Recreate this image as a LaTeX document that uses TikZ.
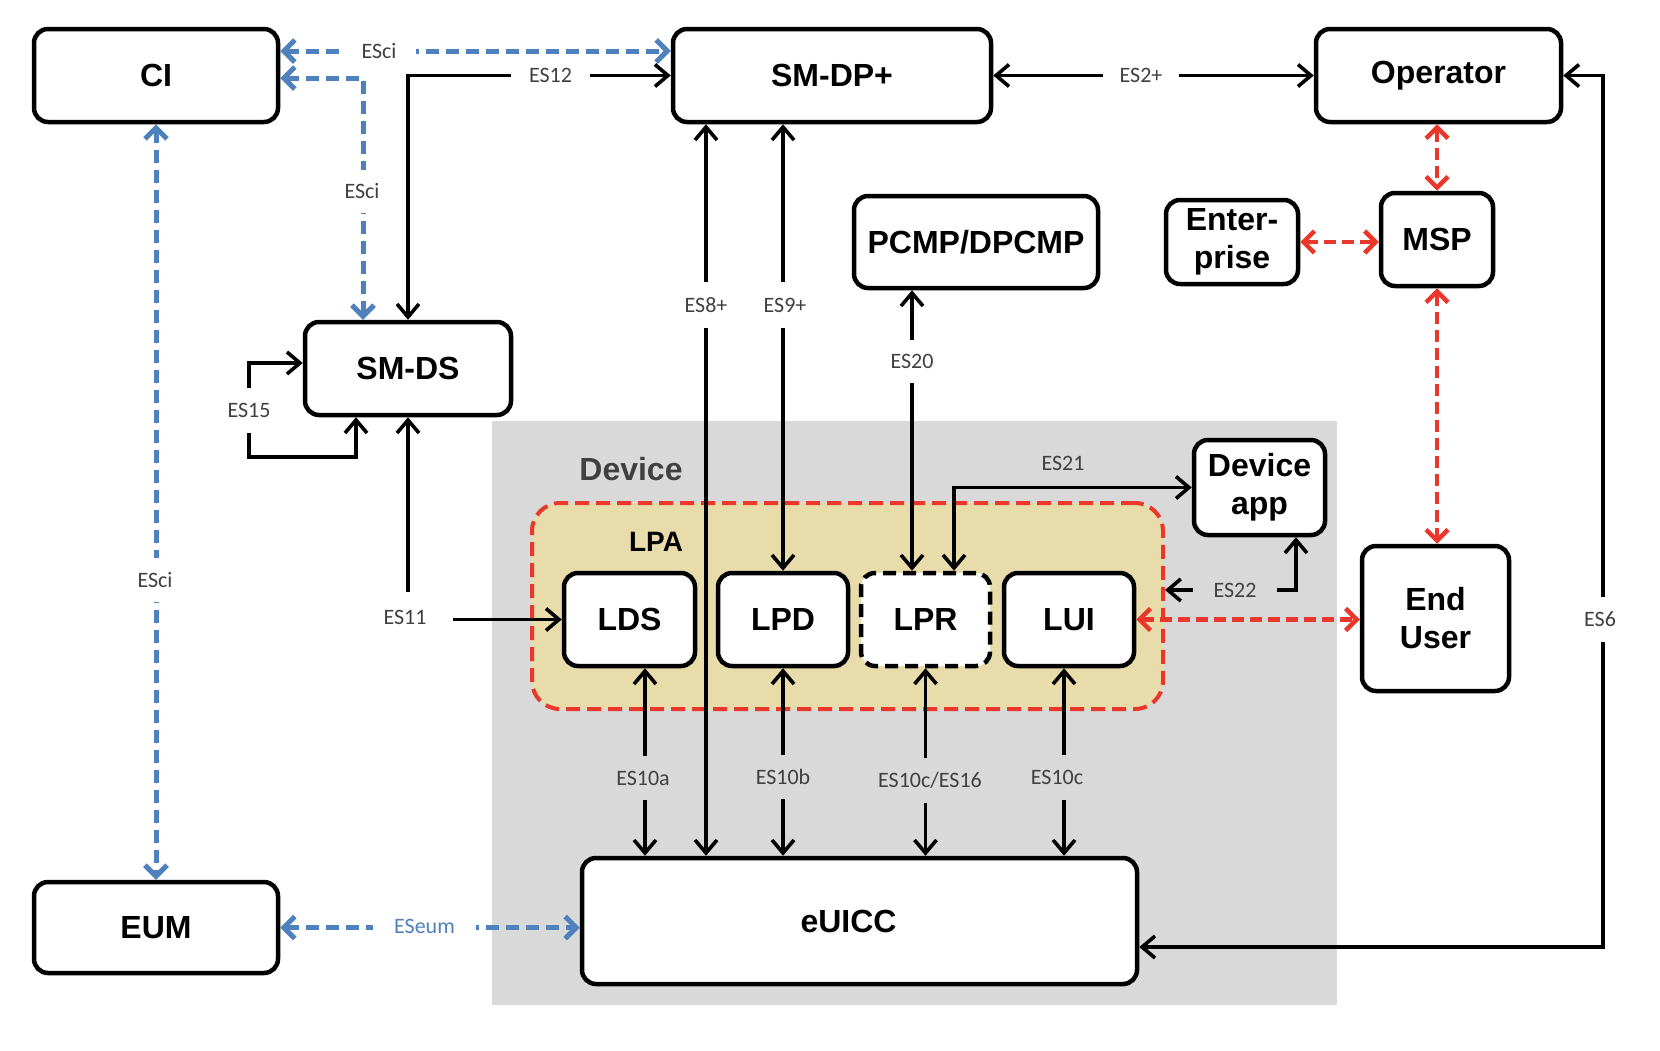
\documentclass[tikz,border=0pt]{standalone}
\usepackage{fontspec}
\newfontfamily\arialfont{Liberation Sans}
\newfontfamily\carlfont{Carlito}
\usetikzlibrary{arrows.meta}
\definecolor{esblue}{RGB}{79,129,189}
\definecolor{esred}{RGB}{233,56,43}
\definecolor{lpabeige}{RGB}{232,220,170}
\definecolor{devgray}{RGB}{217,217,217}
\definecolor{devtext}{RGB}{64,64,64}
\tikzset{
  box/.style={draw=black, line width=4.5pt, rounded corners=14pt, fill=white, align=center, inner sep=0pt, font=\arialfont\bfseries\fontsize{32}{38}\selectfont},
  lbl/.style={font=\carlfont\fontsize{22}{26}\selectfont, inner sep=0pt, text=devtext},
  lblw/.style={lbl, fill=white},
  lblg/.style={lbl, fill=devgray},
  conn/.style={line width=3.6pt, draw=black, >={Straight Barb[length=13pt,width=22pt]}},
  bluel/.style={line width=5pt, draw=esblue, dash pattern=on 13pt off 7pt, >={Straight Barb[length=11pt,width=22pt]}},
  redl/.style={line width=4.5pt, draw=esred, dash pattern=on 12pt off 6pt, >={Straight Barb[length=11pt,width=22pt]}},
}
\begin{document}
\begin{tikzpicture}[x=1pt,y=-1pt]
\useasboundingbox (0,0) rectangle (1660,1050);
% containers
\node[fill=devgray, minimum width=845pt, minimum height=584pt, inner sep=0pt] (device) at (914.5,713) {};
\node[draw=esred, fill=lpabeige, line width=4pt, dash pattern=on 14pt off 7pt, rounded corners=28pt, minimum width=631pt, minimum height=206pt, inner sep=0pt] (lpa) at (847.5,606) {};
\node[font=\arialfont\bfseries\fontsize{32}{38}\selectfont, text=devtext] (devlbl) at (631,469) {Device};
\node[font=\arialfont\bfseries\fontsize{28}{32}\selectfont] (lpalbl) at (656,542) {LPA};
% boxes
\node[box, minimum width=244pt, minimum height=93pt] (ci) at (156,75.5) {CI};
\node[box, minimum width=318pt, minimum height=93pt] (smdp) at (832,75.5) {SM-DP+};
\node[box, minimum width=245pt, minimum height=93pt] (op) at (1438.5,75.5) {Operator};
\node[box, minimum width=206pt, minimum height=93pt] (smds) at (408,368.5) {SM-DS};
\node[box, minimum width=244pt, minimum height=92pt] (pcmp) at (976,242) {PCMP/DPCMP};
\node[box, minimum width=132pt, minimum height=84pt] (ent) at (1232,242) {Enter-\\prise};
\node[box, minimum width=112pt, minimum height=93pt] (msp) at (1437,239.5) {MSP};
\node[box, minimum width=131pt, minimum height=95pt] (dapp) at (1259.5,487.5) {Device\\app};
\node[box, minimum width=147pt, minimum height=145pt] (eu) at (1435.5,618.5) {End\\User};
\node[box, minimum width=131pt, minimum height=93pt] (lds) at (629.5,619.5) {LDS};
\node[box, minimum width=130pt, minimum height=93pt] (lpd) at (783,619.5) {LPD};
\node[box, minimum width=129pt, minimum height=93pt, dash pattern=on 13pt off 7pt] (lpr) at (925.5,619.5) {LPR};
\node[box, minimum width=130pt, minimum height=93pt] (lui) at (1069,619.5) {LUI};
\node[box, minimum width=244pt, minimum height=91pt] (eum) at (156,927.5) {EUM};
\node[box, minimum width=555pt, minimum height=126pt] (euicc) at (859.5,921) {\hspace*{-22pt}eUICC};
% helper x/y positions
\coordinate (x8) at (706,0);
\coordinate (x20) at (912,0);
\coordinate (x21) at (954,0);
\coordinate (x22) at (1296,0);
\coordinate (y22) at (0,590);
\coordinate (x10a) at (645,0);
\coordinate (x10c) at (1064,0);
\coordinate (es6c) at (1603,947);
% blue connectors
\draw[bluel,<->] ([yshift=24.5pt]ci.east) -- ([yshift=24.5pt]smdp.west);
\draw[bluel,<->] ([yshift=-2.5pt]ci.east) -| ([xshift=-45pt]smds.north);
\draw[bluel,<->] (ci.south) -- (eum.north);
\draw[bluel,<->] (eum.east) -- (eum.east -| euicc.west);
% black connectors
\draw[conn,<->] (smds.north) |- (smdp.west);
\draw[conn,<->] (smdp.east) -- (op.west);
\draw[conn,<->] (op.east) -| (es6c) -- (es6c -| euicc.east);
\draw[conn,<->] ([xshift=-52pt]smds.south) -- ++(0,40) -- ++(-107,0) |- ([yshift=5.5pt]smds.west);
\draw[conn,<->] (smds.south) |- (lds.west);
\draw[conn,<->] (euicc.north -| x8) -- (smdp.south -| x8);
\draw[conn,<->] (lpd.north) -- (smdp.south -| lpd.north);
\draw[conn,<->] (lpr.north -| x20) -- (pcmp.south -| x20);
\draw[conn,<->] (lpr.north -| x21) |- (dapp.west);
\draw[conn,<->] (dapp.south -| x22) |- (lpa.east |- y22);
\draw[conn,<->] (lds.south -| x10a) -- (euicc.north -| x10a);
\draw[conn,<->] (lpd.south) -- (euicc.north -| lpd.south);
\draw[conn,<->] (lpr.south) -- (euicc.north -| lpr.south);
\draw[conn,<->] (lui.south -| x10c) -- (euicc.north -| x10c);
% red connectors
\draw[redl,<->] (op.south -| msp.north) -- (msp.north);
\draw[redl,<->] (ent.east) -- (msp.west |- ent.east);
\draw[redl,<->] (msp.south) -- (eu.north -| msp.south);
\draw[redl,<->] (lui.east) -- (eu.west |- lui.east);
% labels
\node[lblw, minimum width=74pt, minimum height=24pt] (lesci1) at (379,51) {ESci};
\node[lblw, minimum width=79pt, minimum height=24pt] (les12) at (550.5,75.5) {ES12};
\node[lblw, minimum width=76pt, minimum height=24pt] (les2) at (1141,75.5) {ES2+};
\node[lblw, minimum width=40pt, minimum height=43pt] (lesci2) at (362,191.5) {ESci};
\node[lblw, minimum width=44pt, minimum height=46pt] (les8) at (706,305) {ES8+};
\node[lblw, minimum width=44pt, minimum height=46pt] (les9) at (785,305) {ES9+};
\node[lblw, minimum width=44pt, minimum height=43pt] (les20) at (912,361.5) {ES20};
\node[lblw, minimum width=44pt, minimum height=45pt] (les15) at (249,410.5) {ES15};
\node[lblw, minimum width=40pt, minimum height=44pt] (lesci3) at (155,580) {ESci};
\node[lblw, minimum width=96pt, minimum height=50pt] (les11) at (405,617) {ES11};
\node[lbl] (les21) at (1063,463) {ES21};
\node[lblg, minimum width=84pt, minimum height=24pt] (les22) at (1235,590) {ES22};
\node[lblg, minimum width=52pt, minimum height=44pt] (les10a) at (643,778) {ES10a};
\node[lblg, minimum width=52pt, minimum height=44pt] (les10b) at (783,777) {ES10b};
\node[lblg, minimum width=100pt, minimum height=45pt] (les10cs) at (930,780.5) {ES10c/ES16};
\node[lblg, minimum width=52pt, minimum height=45pt] (les10c) at (1057,777) {ES10c};
\node[lblw, minimum width=36pt, minimum height=45pt] (les6) at (1600,619.5) {ES6};
\node[lblw, minimum width=103pt, minimum height=24pt, text=esblue] (leseum) at (424.5,926) {ESeum};
\end{tikzpicture}
\end{document}
